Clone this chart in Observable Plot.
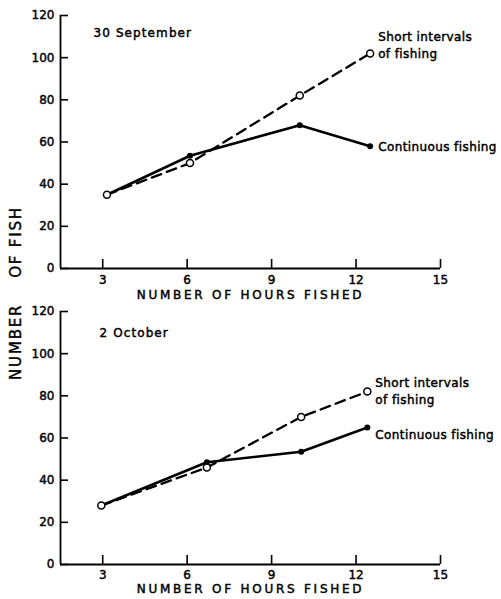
<!DOCTYPE html>
<html><head><meta charset="utf-8">
<script src="https://cdn.jsdelivr.net/npm/d3@7"></script>
<script src="https://cdn.jsdelivr.net/npm/@observablehq/plot@0.6"></script>
<style>
html,body{margin:0;padding:0;background:#fff;}
#chart{position:relative;width:501px;height:599px;overflow:hidden;font-family:"DejaVu Sans",sans-serif;color:#000;}
#chart svg{display:block;}
#chart svg text{stroke:#000;stroke-width:0.45px;}
#ylab{position:absolute;left:16px;top:293px;transform:translate(-50%,-50%) rotate(-90deg);white-space:nowrap;font-size:15px;letter-spacing:1.8px;line-height:1;-webkit-text-stroke:0.4px #000;}
#ylab .gap{display:inline-block;width:26px;}
</style></head><body><div id="chart"></div>
<script>
const xTicks = [3, 6, 9, 12, 15];
const yTicks = [0, 20, 40, 60, 80, 100, 120];
const xLabel = "NUMBER OF HOURS FISHED";
const yLabelParts = ["NUMBER", "OF FISH"];
const seriesLabels = ["Short intervals\nof fishing", "Continuous fishing"];

const sepTitle = "30 September";
const sepHours = [3.15, 6.1, 10.0, 12.5];
const sepShort = [35, 50, 82, 102];
const sepCont = [35, 53.5, 68, 58];

const octTitle = "2 October";
const octHours = [2.95, 6.7, 10.05, 12.4];
const octShort = [28, 46, 70, 82];
const octCont = [28, 48.5, 53.5, 65];

const FONT = "DejaVu Sans, sans-serif";
const W = 501, ML = 60, MR = 61;

function panel(o) {
  const shortData = o.hours.map((h, i) => ({h, v: o.shortV[i]}));
  const contData = o.hours.map((h, i) => ({h, v: o.contV[i]}));
  const lastS = shortData[shortData.length - 1];
  const lastC = contData[contData.length - 1];
  const frameH = o.height - o.marginTop - o.marginBottom;
  const frameW = W - ML - MR;
  return Plot.plot({
    width: W, height: o.height,
    marginLeft: ML, marginRight: MR, marginTop: o.marginTop, marginBottom: o.marginBottom,
    style: {fontFamily: FONT, fontSize: "12px", color: "#000", background: "#fff"},
    x: {domain: [1.5, 15]},
    y: {domain: [0, 120]},
    marks: [
      Plot.ruleX([1.5], {stroke: "#000", strokeWidth: 1.8}),
      Plot.ruleY([0], {stroke: "#000", strokeWidth: 1.8}),
      Plot.tickX(xTicks, {x: d => d, stroke: "#000", strokeWidth: 1.6, insetTop: frameH - 9}),
      Plot.tickY(yTicks, {y: d => d, stroke: "#000", strokeWidth: 1.6, insetRight: frameW - 8}),
      Plot.axisY({ticks: yTicks, tickSize: 0, tickPadding: 6, label: null, fontSize: 12}),
      Plot.axisX({ticks: xTicks, tickSize: 0, tickPadding: o.xTickPad, label: null, fontSize: 12}),
      Plot.text([xLabel], {frameAnchor: "bottom", lineAnchor: "middle", dx: 0, dy: o.labelDy, text: d => d, fontSize: 12}),
      Plot.text([o.title], {frameAnchor: "top-left", lineAnchor: "middle", dx: o.titleDx, dy: o.titleDy, text: d => d, textAnchor: "start", fontSize: 12}),
      Plot.line(shortData, {x: "h", y: "v", stroke: "#000", strokeWidth: 2.3, strokeDasharray: "10,6"}),
      Plot.line(contData, {x: "h", y: "v", stroke: "#000", strokeWidth: 2.6}),
      Plot.dot(contData, {x: "h", y: "v", r: 3, fill: "#000"}),
      Plot.dot(shortData, {x: "h", y: "v", r: 3.5, fill: "#fff", stroke: "#000", strokeWidth: 1.5}),
      Plot.text([lastS], {x: "h", y: "v", text: () => seriesLabels[0], dx: 8, dy: o.shortDy, textAnchor: "start", lineHeight: 1.4, fontSize: 12}),
      Plot.text([lastC], {x: "h", y: "v", text: () => seriesLabels[1], dx: 8, dy: o.contDy, textAnchor: "start", fontSize: 12})
    ]
  });
}

function spacing(svg) {
  d3.select(svg).selectAll("text").each(function() {
    const t = this.textContent;
    if (t === xLabel) this.style.letterSpacing = "2.75px";
    else if (t === sepTitle || t === octTitle) this.style.letterSpacing = "1.1px";
    else if (t.startsWith("Short") || t.startsWith("Continuous")) this.style.letterSpacing = "0.4px";
  });
  return svg;
}

const chart = document.getElementById("chart");
chart.append(spacing(panel({title: sepTitle, hours: sepHours, shortV: sepShort, contV: sepCont,
  height: 302, marginTop: 15, marginBottom: 34, titleDx: 33, titleDy: 18, labelDy: 27, xTickPad: 7,
  shortDy: -9, contDy: 1})));
chart.append(spacing(panel({title: octTitle, hours: octHours, shortV: octShort, contV: octCont,
  height: 297, marginTop: 9, marginBottom: 35, titleDx: 39, titleDy: 22, labelDy: 25, xTickPad: 6,
  shortDy: -1.5, contDy: 8})));
const yl = document.createElement("div");
yl.id = "ylab";
yl.innerHTML = `<span>${yLabelParts[0]}</span><span class="gap"></span><span>${yLabelParts[1]}</span>`;
chart.append(yl);
</script>
</body></html>
